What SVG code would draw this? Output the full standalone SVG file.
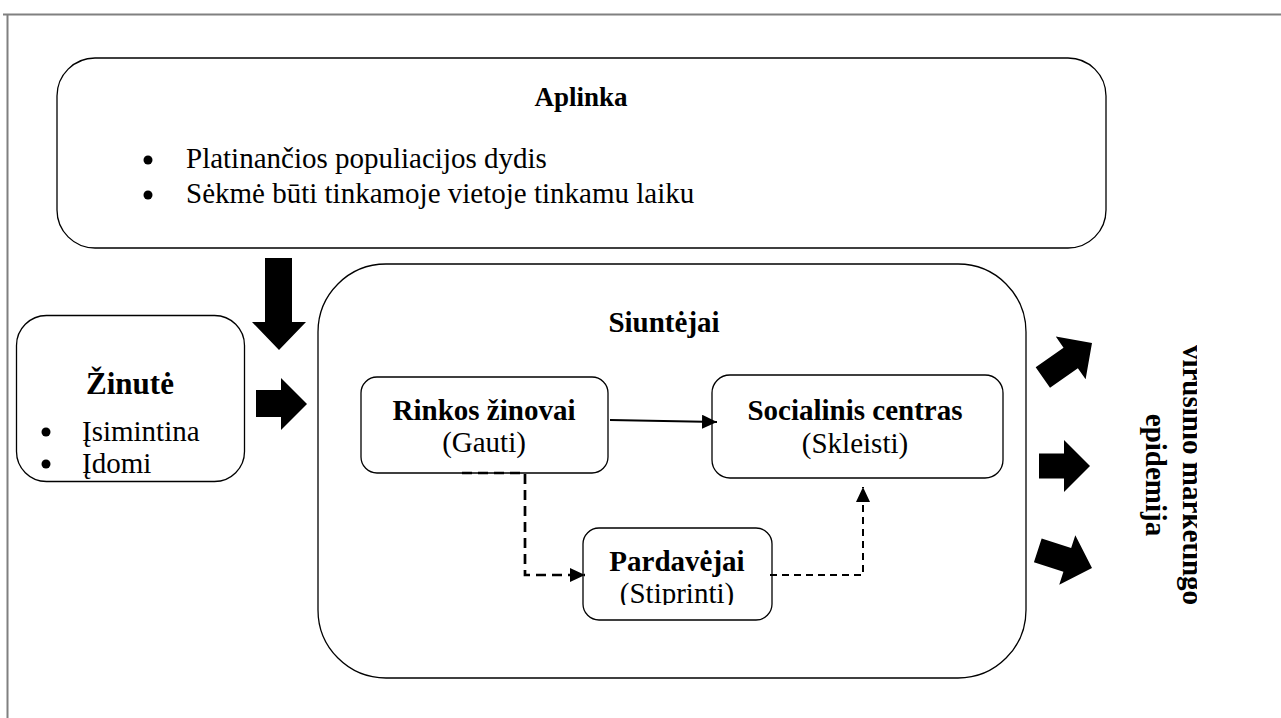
<svg xmlns="http://www.w3.org/2000/svg" width="1281" height="718" viewBox="0 0 1281 718">
<style>
.frame{stroke:#808080;stroke-width:2;fill:none}
.box{fill:#fff;stroke:#000;stroke-width:1.3}
.t{font-family:"Liberation Serif","Times New Roman","DejaVu Serif",serif;font-size:29px;fill:#000}
.b{font-weight:bold}
.m{text-anchor:middle}
.blk{fill:#000}
.con{fill:none;stroke:#000}
</style>
<defs>
<marker id="ah" viewBox="0 0 15 14" refX="15" refY="7" markerWidth="15" markerHeight="14" markerUnits="userSpaceOnUse" orient="auto">
<path d="M0,0 L15,7 L0,14 Z" fill="#000"/>
</marker>
<clipPath id="clipV" clipPathUnits="userSpaceOnUse"><rect x="1100" y="300" width="97" height="350"/></clipPath>
<clipPath id="clipS" clipPathUnits="userSpaceOnUse"><rect x="560" y="500" width="230" height="105"/></clipPath>
</defs>
<rect width="1281" height="718" fill="#fff"/>
<g id="frame">
<path class="frame" d="M3,14.5 H1281"/>
<path class="frame" d="M7.5,14 V718"/>
</g>

<g id="aplinka">
<rect class="box" x="57" y="58" width="1049" height="190" rx="38"/>
<text class="t b m" x="581" y="106" style="font-size:27px">Aplinka</text>
<circle cx="148" cy="160" r="4.5" class="blk"/>
<text class="t" x="186" y="168">Platinančios populiacijos dydis</text>
<circle cx="148" cy="195" r="4.5" class="blk"/>
<text class="t" x="186" y="203">Sėkmė būti tinkamoje vietoje tinkamu laiku</text>
</g>

<g id="zinute">
<rect class="box" x="16.5" y="315.5" width="228" height="166" rx="30"/>
<text class="t b m" x="130" y="394" style="font-size:31px">Žinutė</text>
<circle cx="46" cy="432" r="4.5" class="blk"/>
<text class="t" x="82" y="441">Įsimintina</text>
<circle cx="46" cy="464" r="4.5" class="blk"/>
<text class="t" x="82" y="473">Įdomi</text>
</g>

<g id="siuntejai">
<rect class="box" x="318" y="264" width="708" height="414" rx="68"/>
<text class="t b m" x="664" y="332">Siuntėjai</text>
</g>

<g id="rinkos">
<rect class="box" x="361" y="377" width="247" height="96" rx="16"/>
<text class="t b m" x="484" y="420">Rinkos žinovai</text>
<text class="t m" x="484" y="452">(Gauti)</text>
</g>

<g id="socialinis">
<rect class="box" x="712" y="375" width="291" height="103" rx="18"/>
<text class="t b m" x="855" y="420">Socialinis centras</text>
<text class="t m" x="855" y="453">(Skleisti)</text>
</g>

<g id="pardavejai">
<rect class="box" x="583" y="528" width="189" height="92" rx="16"/>
<text class="t b m" x="677" y="571">Pardavėjai</text>
<g clip-path="url(#clipS)"><text class="t m" x="677" y="603">(Stiprinti)</text></g>
</g>

<g id="epidemija">
<g clip-path="url(#clipV)">
<text class="t b m" transform="translate(1183,475) rotate(90)" x="0" y="0">virusinio marketingo</text>
<text class="t b m" transform="translate(1183,475) rotate(90)" x="0" y="37">epidemija</text>
</g>
</g>

<g id="connectors">
<polygon class="blk" points="265,258 292,258 292,322 306,322 279,350 252,322 265,322"/>
<polygon class="blk" points="256,390 281,390 281,378 307,404 281,430 281,417 256,417"/>
<path class="blk" transform="translate(1092,343) rotate(-35)" d="M-60,-12.5 H-26 V-26 L0,0 L-26,26 V12.5 H-60 Z"/>
<path class="blk" transform="translate(1090,466)" d="M-51,-12.5 H-26 V-26 L0,0 L-26,26 V12.5 H-51 Z"/>
<path class="blk" transform="translate(1092,568) rotate(18)" d="M-57,-12.5 H-26 V-26 L0,0 L-26,26 V12.5 H-57 Z"/>
<path class="con" d="M610,420 L717,422" stroke-width="2" marker-end="url(#ah)"/>
<path class="con" d="M462,473 H525 V575 H585" stroke-width="2.7" stroke-dasharray="10 6" marker-end="url(#ah)"/>
<path class="con" d="M770,575 H863 V487" stroke-width="2" stroke-dasharray="7 5" marker-end="url(#ah)"/>
</g>
</svg>
